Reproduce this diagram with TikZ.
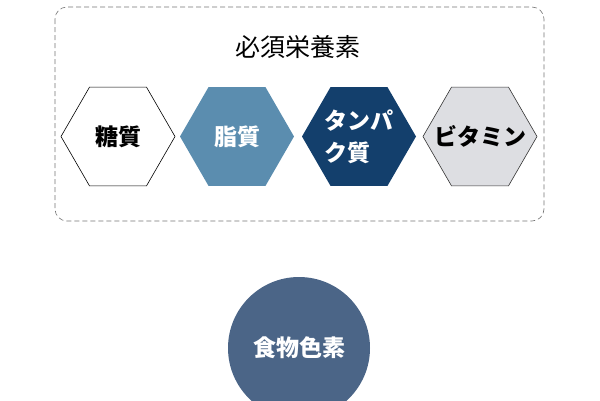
\documentclass[tikz,border=0pt]{standalone}
\usepackage{fontspec}
\usepackage{xcolor}
\usepackage{tikz}
\usetikzlibrary{shapes.geometric}
\newfontfamily\jpfont{Noto Sans CJK JP}
\definecolor{hexblue}{HTML}{5B8DAF}
\definecolor{hexnavy}{HTML}{133F6C}
\definecolor{hexgray}{HTML}{DDDEE2}
\definecolor{pigment}{HTML}{4B6587}

\begin{document}
\begin{tikzpicture}[x=1pt, y=-1pt,
	hexagon/.style={regular polygon, regular polygon sides=6, minimum size=114pt, inner sep=0pt, line width=0.6pt, font=\jpfont\bfseries\fontsize{23}{32}\selectfont},
	]
				\useasboundingbox (0,0) rectangle (600,400);
				\clip (0,0) rectangle (600,400);
				\draw[black!55, dash pattern=on 5pt off 3pt, rounded corners=12pt, line width=0.6pt] (55,7) rectangle (544,221);
				\node[font=\jpfont\fontsize{25}{28}\selectfont] (title) at (298, 47) {必須栄養素};
				\node[hexagon, draw=black, fill=white] (sugar) at (118, 136.5) {糖質};
				\node[hexagon, fill=hexblue, text=white] (fat) at (237, 136.5) {脂質};
				\node[hexagon, fill=hexnavy, text=white, align=left] (protein) at (359, 136.5) {タンパ\\ク質};
				\node[hexagon, draw=black!80, fill=hexgray] (vitamin) at (480, 136.5) {\makebox[0pt]{ビタミン}};
				\node[circle, fill=pigment, text=white, minimum size=142pt, inner sep=0pt, font=\jpfont\bfseries\fontsize{23}{26}\selectfont] (pigment) at (299, 348) {食物色素};
			\end{tikzpicture}
\end{document}
